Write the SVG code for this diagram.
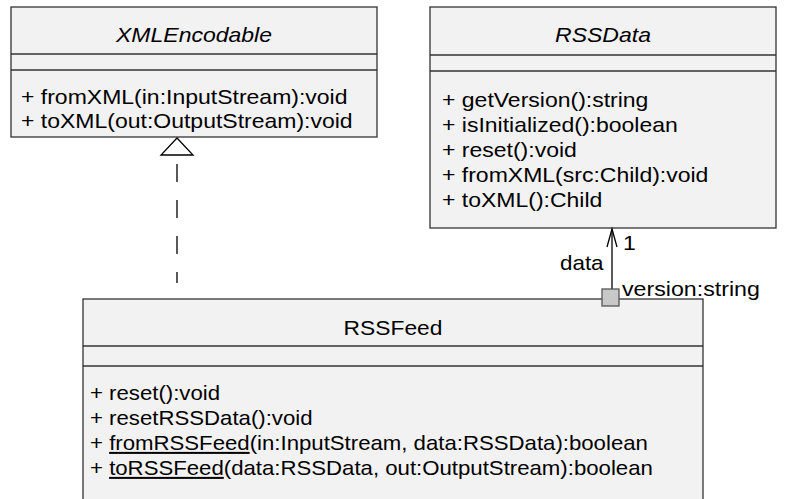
<svg xmlns="http://www.w3.org/2000/svg" width="789" height="499" viewBox="0 0 789 499">
<style>
.box{fill:#f2f2f2;stroke:#333;stroke-width:1.3}
.sep{stroke:#333;stroke-width:1.3}
text{font-family:"Liberation Sans",Arial,sans-serif;font-size:20px;fill:#000}
.it{font-style:italic}
.c{text-anchor:middle}
.ln{fill:none;stroke:#000;stroke-width:1.3}
</style>
<rect width="789" height="499" fill="#fff"/>
<g id="XMLEncodable">
<rect class="box" x="11" y="7" width="366" height="130"/>
<line class="sep" x1="11" y1="54" x2="377" y2="54"/>
<line class="sep" x1="11" y1="70" x2="377" y2="70"/>
<text class="it c" transform="translate(194,42) scale(1.15,1)">XMLEncodable</text>
<text transform="translate(21,104) scale(1.15,1)">+ fromXML(in:InputStream):void</text>
<text transform="translate(21,128) scale(1.15,1)">+ toXML(out:OutputStream):void</text>
</g>
<g id="RSSData">
<rect class="box" x="430" y="7" width="346" height="221"/>
<line class="sep" x1="430" y1="55" x2="776" y2="55"/>
<line class="sep" x1="430" y1="71" x2="776" y2="71"/>
<text class="it c" transform="translate(603,42) scale(1.15,1)">RSSData</text>
<text transform="translate(442,107) scale(1.15,1)">+ getVersion():string</text>
<text transform="translate(442,132) scale(1.15,1)">+ isInitialized():boolean</text>
<text transform="translate(442,157) scale(1.15,1)">+ reset():void</text>
<text transform="translate(442,182) scale(1.15,1)">+ fromXML(src:Child):void</text>
<text transform="translate(442,207) scale(1.15,1)">+ toXML():Child</text>
</g>
<g id="RSSFeed">
<rect class="box" x="83" y="299" width="620" height="215"/>
<line class="sep" x1="83" y1="346" x2="703" y2="346"/>
<line class="sep" x1="83" y1="366" x2="703" y2="366"/>
<text class="c" transform="translate(393,335) scale(1.14,1)">RSSFeed</text>
<text transform="translate(90,400) scale(1.11,1)">+ reset():void</text>
<text transform="translate(90,425) scale(1.11,1)">+ resetRSSData():void</text>
<text transform="translate(90,450) scale(1.11,1)">+ <tspan text-decoration="underline">fromRSSFeed</tspan>(in:InputStream, data:RSSData):boolean</text>
<text transform="translate(90,475) scale(1.11,1)">+ <tspan text-decoration="underline">toRSSFeed</tspan>(data:RSSData, out:OutputStream):boolean</text>
</g>
<g id="connectors">
<line class="ln" x1="177" y1="155" x2="177" y2="283" stroke-dasharray="18 18" stroke-dashoffset="-9"/>
<polygon points="177,138 161,155 193,155" fill="#fff" stroke="#000" stroke-width="1.3"/>
<line class="ln" x1="612" y1="229" x2="612" y2="289"/>
<polyline class="ln" points="607,247 612,229 617,247"/>
<rect x="602" y="289" width="17" height="17" fill="#c8c8c8" stroke="#555" stroke-width="1.3"/>
<text transform="translate(623,250) scale(1.15,1)">1</text>
<text transform="translate(560,270) scale(1.12,1)">data</text>
<text transform="translate(622,296) scale(1.16,1)">version:string</text>
</g>
</svg>
